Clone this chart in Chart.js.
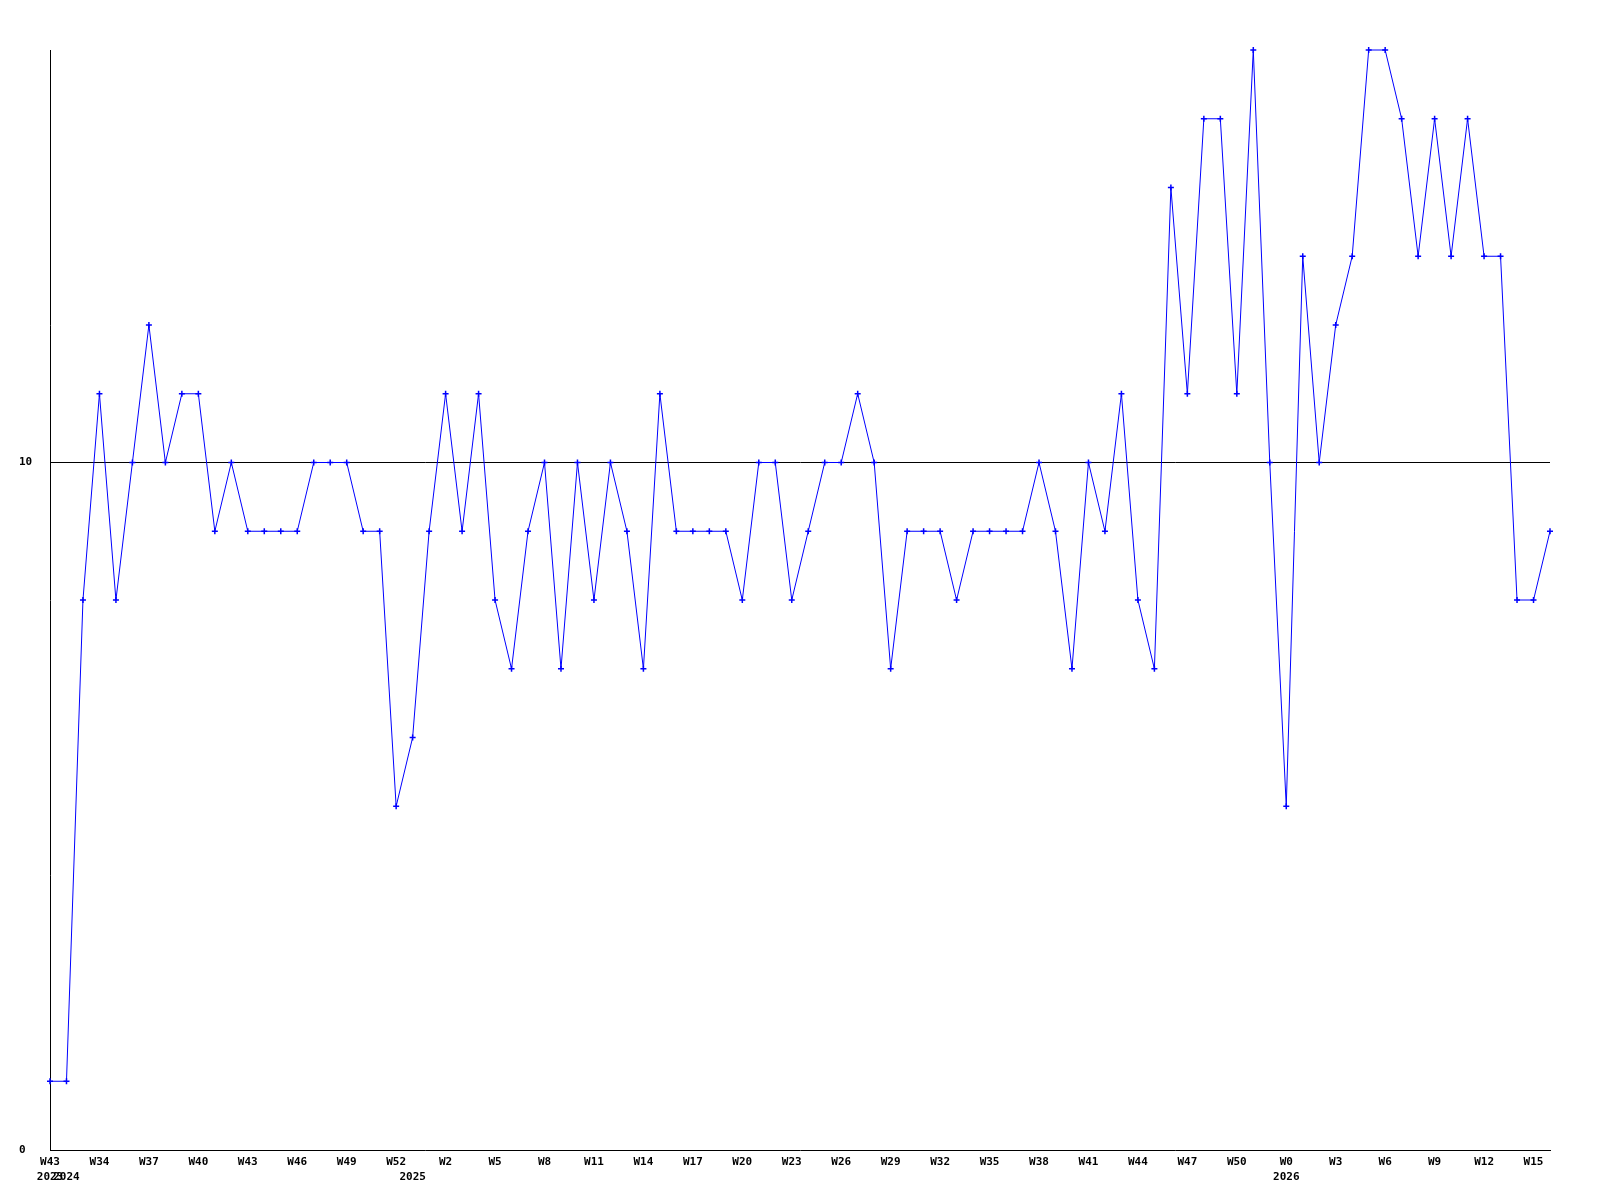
<!DOCTYPE html>
<html>
<head>
<meta charset="utf-8">
<script src="https://cdn.jsdelivr.net/npm/chart.js@4/dist/chart.umd.min.js"></script>
<style>
  html, body { margin: 0; padding: 0; background: #fff; }
  #wrap { width: 1600px; height: 1200px; }
</style>
</head>
<body>
<div id="wrap"><canvas id="myChart" width="1600" height="1200"></canvas></div>
<script>
// one entry per weekly point
const weeks = [
  "W43", "W32", "W33", "W34", "W35", "W36", "W37", "W38", "W39", "W40",
  "W41", "W42", "W43", "W44", "W45", "W46", "W47", "W48", "W49", "W50",
  "W51", "W52", "W0", "W1", "W2", "W3", "W4", "W5", "W6", "W7",
  "W8", "W9", "W10", "W11", "W12", "W13", "W14", "W15", "W16", "W17",
  "W18", "W19", "W20", "W21", "W22", "W23", "W24", "W25", "W26", "W27",
  "W28", "W29", "W30", "W31", "W32", "W33", "W34", "W35", "W36", "W37",
  "W38", "W39", "W40", "W41", "W42", "W43", "W44", "W45", "W46", "W47",
  "W48", "W49", "W50", "W51", "W52", "W0", "W1", "W2", "W3", "W4",
  "W5", "W6", "W7", "W8", "W9", "W10", "W11", "W12", "W13", "W14",
  "W15", "W16"
];

// year label shown under the first point of each year
const yearStarts = { 0: "2023", 1: "2024", 22: "2025", 75: "2026" };

const values = [
  1, 1, 8, 11, 8, 10, 12, 10, 11, 11,
  9, 10, 9, 9, 9, 9, 10, 10, 10, 9,
  9, 5, 6, 9, 11, 9, 11, 8, 7, 9,
  10, 7, 10, 8, 10, 9, 7, 11, 9, 9,
  9, 9, 8, 10, 10, 8, 9, 10, 10, 11,
  10, 7, 9, 9, 9, 8, 9, 9, 9, 9,
  10, 9, 7, 10, 9, 11, 8, 7, 14, 11,
  15, 15, 11, 16, 10, 5, 13, 10, 12, 13,
  16, 16, 15, 13, 15, 13, 15, 13, 13, 8,
  8, 9
];

const yTicks = [0, 10];

const tickFont = { family: "'DejaVu Sans Mono', monospace", size: 11, weight: "bold", lineHeight: 1.35 };

const ctx = document.getElementById("myChart").getContext("2d");
new Chart(ctx, {
  type: "line",
  data: {
    labels: weeks,
    datasets: [{
      data: values,
      borderColor: "#0000ff",
      backgroundColor: "#0000ff",
      borderWidth: 1,
      tension: 0,
      fill: false,
      pointStyle: "cross",
      pointRadius: 3,
      pointBorderWidth: 1.5,
      pointBorderColor: "#0000ff",
      clip: false
    }]
  },
  options: {
    responsive: false,
    animation: false,
    events: [],
    layout: { padding: { left: 19, right: 50, top: 50, bottom: 0 } },
    plugins: {
      legend: { display: false },
      tooltip: { enabled: false }
    },
    scales: {
      x: {
        type: "category",
        offset: false,
        afterFit: (scale) => { scale.height = 50; },
        grid: { display: false, drawTicks: false },
        border: { display: true, color: "#000", width: 1 },
        ticks: {
          autoSkip: false,
          maxRotation: 0,
          minRotation: 0,
          padding: 5,
          color: "#000",
          font: tickFont,
          callback: function (val, idx) {
            const wk = idx % 3 === 0 ? weeks[idx] : "";
            if (yearStarts[idx] !== undefined) return [wk, yearStarts[idx]];
            return wk;
          }
        }
      },
      y: {
        min: 0,
        max: 16,
        afterFit: (scale) => { scale.width = 31; },
        afterBuildTicks: (scale) => { scale.ticks = yTicks.map(v => ({ value: v })); },
        grid: {
          drawTicks: false,
          color: (c) => (c.tick && c.tick.value === 10 ? "#000" : "rgba(0,0,0,0)"),
          lineWidth: 1
        },
        border: { display: true, color: "#000", width: 1 },
        ticks: {
          crossAlign: "far",
          padding: 0,
          color: "#000",
          font: tickFont
        }
      }
    }
  }
});
</script>
</body>
</html>
